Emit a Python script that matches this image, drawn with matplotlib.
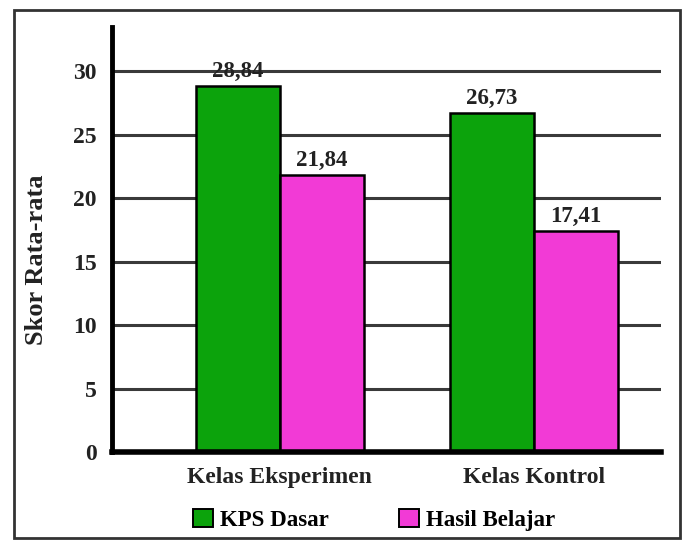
import matplotlib
matplotlib.use("Agg")
import matplotlib.pyplot as plt
from matplotlib.patches import Rectangle, Patch
import numpy as np

# data
categories = ["Kelas Eksperimen", "Kelas Kontrol"]
series_names = ["KPS Dasar", "Hasil Belajar"]
kps_dasar = [28.84, 26.73]
hasil_belajar = [21.84, 17.41]
value_labels = [["28,84", "26,73"], ["21,84", "17,41"]]
yticks = [0, 5, 10, 15, 20, 25, 30]

colors = ["#0ca30c", "#f23ad6"]
txt_color = '#222222'

plt.rcParams['font.family'] = ['Liberation Serif', 'DejaVu Serif']
plt.rcParams['font.weight'] = 'bold'

fig = plt.figure(figsize=(6.84, 5.41), dpi=100)
ax = fig.add_axes([0.1637, 0.1645, 0.966 - 0.1637, 0.950 - 0.1645])

x = np.arange(len(categories))
w = 0.33
series = [kps_dasar, hasil_belajar]
for i, vals in enumerate(series):
    pos = x + (i - 0.5) * w
    bars = ax.bar(pos, vals, width=w, color=colors[i], edgecolor='black',
                  linewidth=1.8, zorder=3)
    for b, lab in zip(bars, value_labels[i]):
        ax.annotate(lab, (b.get_x() + b.get_width() / 2, b.get_height()),
                    xytext=(0, 3), textcoords='offset points',
                    ha='center', va='bottom', fontsize=16.5, fontweight='bold',
                    color=txt_color, zorder=4)

ax.set_xlim(-0.661, 1.5)
ax.set_ylim(0, 33.5)
ax.set_yticks(yticks)
ax.set_yticklabels([str(t) for t in yticks], fontsize=17, fontweight='bold', color=txt_color)
ax.set_xticks(x)
ax.set_xticklabels(categories, fontsize=17, fontweight='bold', color=txt_color)
ax.tick_params(axis='both', length=0)
ax.tick_params(axis='y', pad=11)
ax.tick_params(axis='x', pad=11)

for t in yticks[1:]:
    ax.axhline(t, color='#3a3a3a', lw=2.2, zorder=1)

for s in ['top', 'right']:
    ax.spines[s].set_visible(False)
ax.spines['left'].set_linewidth(3.5)
ax.spines['bottom'].set_linewidth(4)
ax.spines['left'].set_zorder(5)
ax.spines['bottom'].set_zorder(5)

ax.set_ylabel("Skor Rata-rata", fontsize=19, fontweight='bold', color=txt_color)
ax.yaxis.set_label_coords(-0.117, 0.452)

handles = [Patch(facecolor=c, edgecolor='black', linewidth=1.4) for c in colors]
fig.legend(handles, series_names, loc='center', bbox_to_anchor=(374 / 684, 1 - 520 / 541),
           ncol=2, frameon=False, fontsize=16.5, handlelength=0.85, handleheight=0.85,
           handletextpad=0.3, columnspacing=3.1, prop={'weight': 'bold', 'size': 16.5})

# outer frame
fig.patches.append(Rectangle((14 / 684, 1 - 538 / 541), 666 / 684, 528 / 541,
                             transform=fig.transFigure, fill=False,
                             edgecolor='#333333', linewidth=2))

fig.savefig("out.png", dpi=100)
